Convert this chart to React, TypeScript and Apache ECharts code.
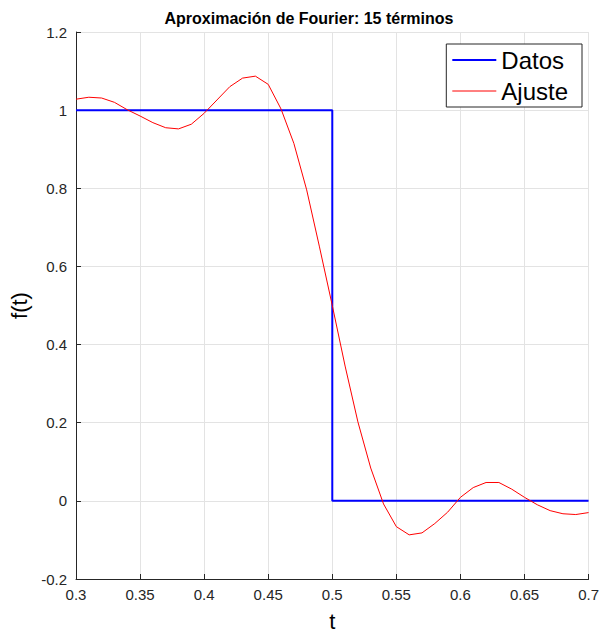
import React, { useEffect, useRef } from "react";
import * as echarts from "echarts";

const titleText = "Aproximación de Fourier: 15 términos";
const xTicks = [0.3, 0.35, 0.4, 0.45, 0.5, 0.55, 0.6, 0.65, 0.7];
const yTicks = [-0.2, 0, 0.2, 0.4, 0.6, 0.8, 1, 1.2];

// Datos (step)
const datosT = [0.3, 0.5, 0.5, 0.7];
const datosF = [1, 1, 0, 0];

// Ajuste (Fourier fit)
const ajusteT = [
  0.3, 0.31, 0.32, 0.33, 0.34, 0.35, 0.36, 0.37, 0.38, 0.39,
  0.4, 0.41, 0.42, 0.43, 0.44, 0.45, 0.46, 0.47, 0.48, 0.49,
  0.5, 0.51, 0.52, 0.53, 0.54, 0.55, 0.56, 0.57, 0.58, 0.59,
  0.6, 0.61, 0.62, 0.63, 0.64, 0.65, 0.66, 0.67, 0.68, 0.69, 0.7,
];
const ajusteF = [
  1.028, 1.033, 1.031, 1.02, 1.001, 0.985, 0.968, 0.955, 0.952, 0.964,
  0.992, 1.026, 1.06, 1.082, 1.087, 1.066, 1.003, 0.915, 0.796, 0.65,
  0.5, 0.345, 0.202, 0.084, -0.008, -0.066, -0.087, -0.082, -0.058, -0.029,
  0.009, 0.034, 0.047, 0.047, 0.03, 0.009, -0.01, -0.025, -0.033, -0.035, -0.03,
];

const FONT = "'Liberation Sans', Arial, Helvetica, sans-serif";
const AXIS = "#262626";

export default function App() {
  const ref = useRef<HTMLDivElement>(null);
  useEffect(() => {
    if (!ref.current) return;
    const chart = echarts.init(ref.current, undefined, { renderer: "svg" });
    chart.setOption({
      animation: false,
      backgroundColor: "#ffffff",
      textStyle: { fontFamily: FONT },
      title: {
        text: titleText,
        left: 309,
        textAlign: "center",
        top: 10,
        padding: 0,
        textStyle: { fontSize: 16, fontWeight: "bold", color: "#000", fontFamily: FONT },
      },
      legend: {
        orient: "vertical",
        right: 20,
        top: 44,
        itemWidth: 44,
        itemHeight: 14,
        itemGap: 7,
        padding: [4, 14, 4, 5],
        borderColor: AXIS,
        borderWidth: 1,
        backgroundColor: "#fff",
        borderRadius: 0,
        itemStyle: { opacity: 0 },
        textStyle: { fontSize: 24, color: "#000", fontFamily: FONT },
        data: [
          { name: "Datos", lineStyle: { width: 2, color: "#0000ff" }, itemStyle: { opacity: 0 } },
          { name: "Ajuste", lineStyle: { width: 1, color: "#ff0000" }, itemStyle: { opacity: 0 } },
        ],
      },
      grid: { left: 76, right: 9, top: 32, bottom: 51, containLabel: false },
      xAxis: {
        type: "value",
        min: xTicks[0],
        max: xTicks[xTicks.length - 1],
        interval: 0.05,
        name: "t",
        nameLocation: "middle",
        nameGap: 31,
        nameTextStyle: { fontSize: 22, color: "#000", fontFamily: FONT },
        axisLine: { show: true, onZero: false, lineStyle: { color: AXIS, width: 1 } },
        axisTick: { show: true, inside: true, length: 5, lineStyle: { color: AXIS } },
        axisLabel: {
          fontSize: 15,
          color: AXIS,
          margin: 8,
          formatter: (v: number) => String(parseFloat(v.toFixed(2))),
        },
        splitLine: { show: true, lineStyle: { color: "#e3e3e3", width: 1 } },
      },
      yAxis: {
        type: "value",
        min: yTicks[0],
        max: yTicks[yTicks.length - 1],
        interval: 0.2,
        name: "f(t)",
        nameLocation: "middle",
        nameGap: 43,
        nameTextStyle: { fontSize: 22, color: "#000", fontFamily: FONT },
        axisLine: { show: true, onZero: false, lineStyle: { color: AXIS, width: 1 } },
        axisTick: { show: true, inside: true, length: 5, lineStyle: { color: AXIS } },
        axisLabel: {
          fontSize: 15,
          color: AXIS,
          margin: 9,
          formatter: (v: number) => String(parseFloat(v.toFixed(2))),
        },
        splitLine: { show: true, lineStyle: { color: "#e3e3e3", width: 1 } },
      },
      series: [
        {
          name: "Datos",
          type: "line",
          data: datosT.map((t, i) => [t, datosF[i]]),
          showSymbol: false,
          symbol: "none",
          lineStyle: { color: "#0000ff", width: 2 },
          itemStyle: { color: "#0000ff" },
          z: 2,
        },
        {
          name: "Ajuste",
          type: "line",
          data: ajusteT.map((t, i) => [t, ajusteF[i]]),
          showSymbol: false,
          symbol: "none",
          lineStyle: { color: "#ff0000", width: 1 },
          itemStyle: { color: "#ff0000" },
          z: 3,
        },
      ],
    });
    return () => chart.dispose();
  }, []);
  return (
    <div
      ref={ref}
      style={{ position: "fixed", left: 0, top: 0, width: 602, height: 637, background: "#fff" }}
    />
  );
}
